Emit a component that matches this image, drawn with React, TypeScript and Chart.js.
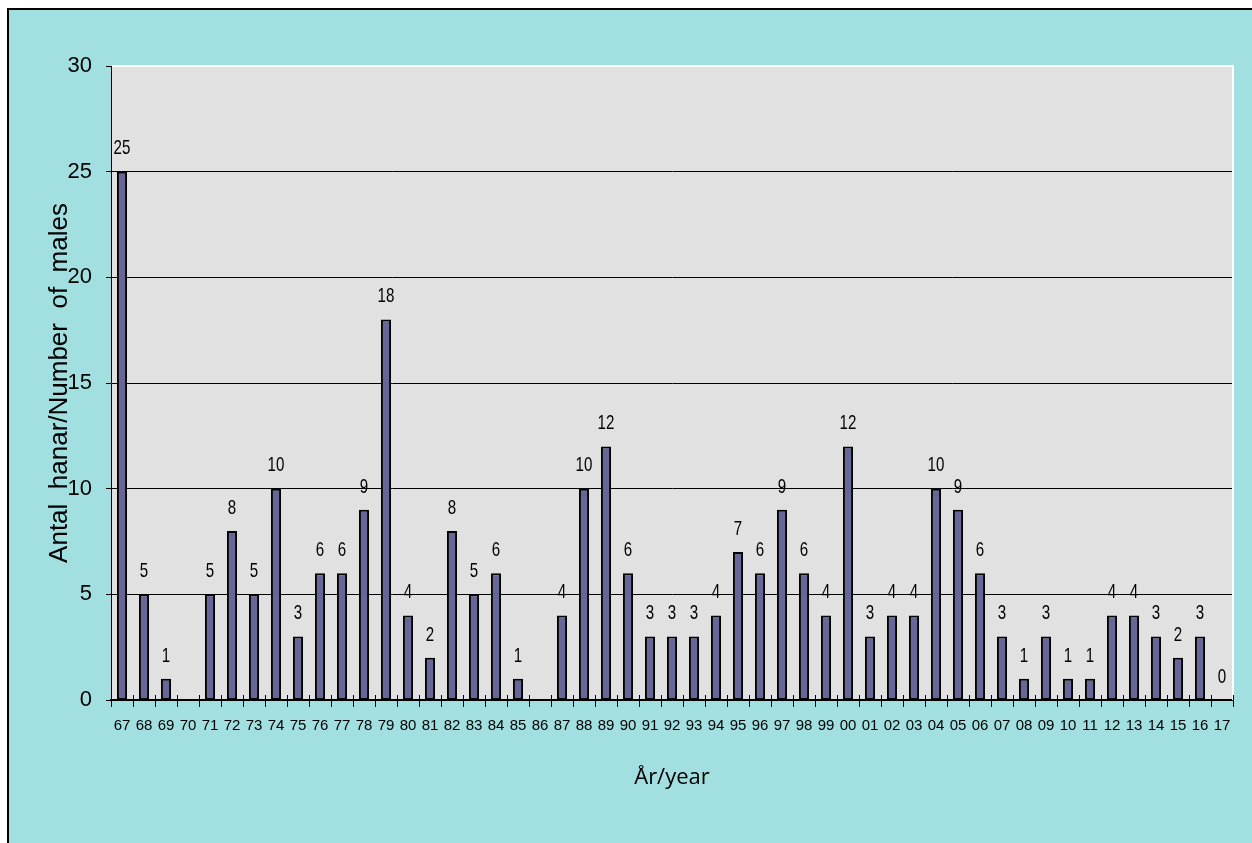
import React, { useEffect, useRef } from 'react';
import { Chart, registerables } from 'chart.js';

Chart.register(...registerables);

const years: string[] = [
  '67', '68', '69', '70', '71', '72', '73', '74', '75', '76', '77', '78', '79',
  '80', '81', '82', '83', '84', '85', '86', '87', '88', '89', '90', '91', '92',
  '93', '94', '95', '96', '97', '98', '99', '00', '01', '02', '03', '04', '05',
  '06', '07', '08', '09', '10', '11', '12', '13', '14', '15', '16', '17',
];

const males: (number | null)[] = [
  25, 5, 1, null, 5, 8, 5, 10, 3, 6, 6, 9, 18,
  4, 2, 8, 5, 6, 1, null, 4, 10, 12, 6, 3, 3,
  3, 4, 7, 6, 9, 6, 4, 12, 3, 4, 4, 10, 9,
  6, 3, 1, 3, 1, 1, 4, 4, 3, 2, 3, 0,
];

const yTitle = 'Antal  hanar/Number  of  males';
const xTitle = 'År/year';

const SANS = "'Liberation Sans', Arial, sans-serif";

const W = 1252;
const H = 843;

const framePlugin = {
  id: 'frame',
  beforeDraw(chart: any) {
    const { ctx, chartArea } = chart;
    ctx.save();
    ctx.fillStyle = '#ffffff';
    ctx.fillRect(0, 0, W, H);
    ctx.fillStyle = '#a2dfe0';
    ctx.fillRect(7, 8, W - 7, H - 8);
    ctx.strokeStyle = '#000000';
    ctx.lineWidth = 2;
    ctx.beginPath();
    ctx.moveTo(8, H);
    ctx.lineTo(8, 9);
    ctx.lineTo(W, 9);
    ctx.stroke();
    ctx.fillStyle = '#e1e1e1';
    ctx.fillRect(chartArea.left, chartArea.top, chartArea.right - chartArea.left, chartArea.bottom - chartArea.top);
    ctx.restore();
  },
  beforeDatasetsDraw(chart: any) {
    const { ctx, chartArea } = chart;
    ctx.save();
    ctx.strokeStyle = '#ffffff';
    ctx.lineWidth = 2;
    ctx.beginPath();
    ctx.moveTo(chartArea.left + 1, chartArea.top);
    ctx.lineTo(chartArea.right, chartArea.top);
    ctx.lineTo(chartArea.right, chartArea.bottom);
    ctx.stroke();
    const xs = chart.scales.x;
    ctx.strokeStyle = '#000000';
    ctx.lineWidth = 1;
    ctx.beginPath();
    for (let i = 0; i <= years.length; i++) {
      const px = Math.round(xs.getPixelForValue(i - 0.5)) + 0.5;
      ctx.moveTo(px, chartArea.bottom - 5);
      ctx.lineTo(px, chartArea.bottom);
    }
    ctx.stroke();
    ctx.restore();
  },
};

const labelPlugin = {
  id: 'barLabels',
  afterDatasetsDraw(chart: any) {
    const { ctx } = chart;
    const meta = chart.getDatasetMeta(0);
    const data = chart.data.datasets[0].data;
    ctx.save();
    ctx.font = `21px ${SANS}`;
    ctx.fillStyle = '#000000';
    ctx.textAlign = 'center';
    ctx.textBaseline = 'middle';
    meta.data.forEach((el: any, i: number) => {
      const v = data[i];
      if (v === null || v === undefined) return;
      ctx.save();
      ctx.translate(el.x, el.y - 23);
      ctx.scale(0.72, 1);
      ctx.fillText(String(v), 0, 0);
      ctx.restore();
    });
    ctx.restore();
  },
};

export default function App() {
  const ref = useRef<HTMLCanvasElement | null>(null);

  useEffect(() => {
    if (!ref.current) return;
    const chart = new Chart(ref.current, {
      type: 'bar',
      data: {
        labels: years,
        datasets: [
          {
            data: males,
            backgroundColor: '#666699',
            borderColor: '#000000',
            borderWidth: (c: any) => (c.raw ? 2 : 0),
            borderSkipped: false,
            categoryPercentage: 1,
            barPercentage: 0.46,
          },
        ],
      },
      options: {
        responsive: false,
        animation: false,
        devicePixelRatio: 1,
        layout: { padding: { left: 0, top: 66, right: 19, bottom: 0 } },
        plugins: {
          legend: { display: false },
          tooltip: { enabled: false },
        },
        scales: {
          x: {
            afterFit: (s: any) => {
              s.height = 143;
            },
            grid: {
              display: true,
              drawOnChartArea: false,
              drawTicks: true,
              tickLength: 7,
              color: '#000000',
              tickColor: '#000000',
              offset: true,
            },
            border: { display: true, color: '#000000', width: 1.5 },
            ticks: {
              color: '#000000',
              font: { family: SANS, size: 15 },
              padding: 10,
              autoSkip: false,
              maxRotation: 0,
            },
            title: {
              display: true,
              text: xTitle,
              color: '#000000',
              font: { family: "'Open Sans', sans-serif", size: 22 },
              padding: { top: 0, bottom: 52 },
            },
          },
          y: {
            min: 0,
            max: 30,
            afterFit: (s: any) => {
              s.width = 111;
            },
            grid: {
              color: (c: any) => (c.tick && c.tick.value === 30 ? 'rgba(0,0,0,0)' : '#000000'),
              tickColor: '#000000',
              tickLength: 5,
              lineWidth: 1,
            },
            border: { display: true, color: '#000000', width: 1 },
            ticks: {
              stepSize: 5,
              color: '#000000',
              font: { family: SANS, size: 22 },
              padding: 14,
            },
            title: {
              display: true,
              text: yTitle,
              color: '#000000',
              font: { family: SANS, size: 26 },
              padding: { top: 44.4, bottom: 0 },
            },
          },
        },
      },
      plugins: [framePlugin, labelPlugin],
    });
    return () => chart.destroy();
  }, []);

  return (
    <div style={{ position: 'fixed', left: 0, top: 0, width: W, height: H }}>
      <canvas ref={ref} width={W} height={H} style={{ display: 'block', width: W, height: H }} />
    </div>
  );
}
